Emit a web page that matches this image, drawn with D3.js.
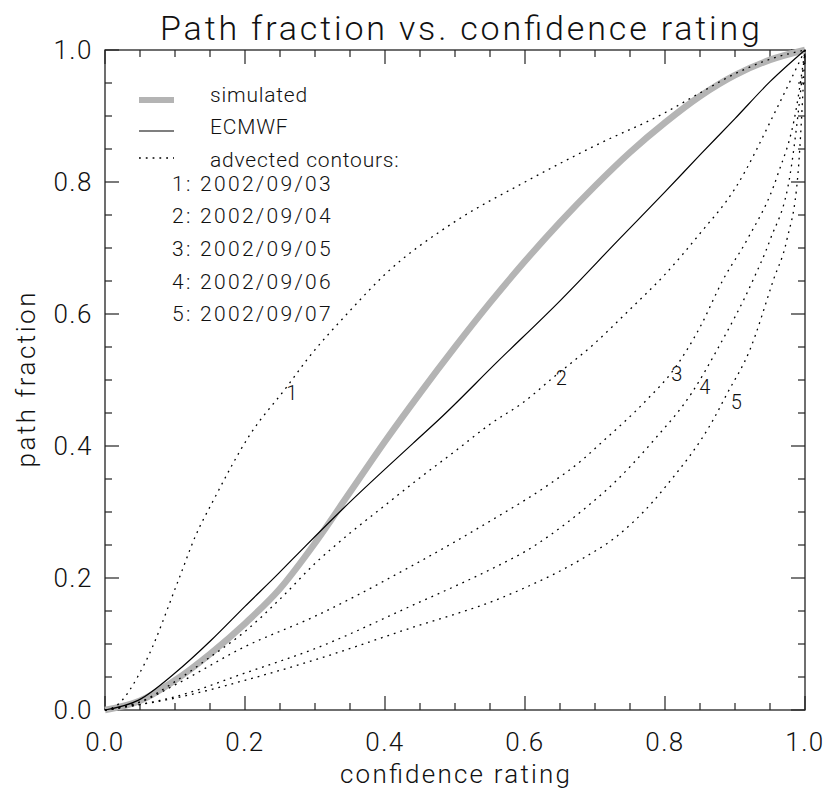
<!DOCTYPE html>
<html>
<head>
<meta charset="utf-8">
<script src="https://cdn.jsdelivr.net/npm/d3@7"></script>
<style>
  body { margin: 0; background: #fff; }
  text { font-family: Roboto, "DejaVu Sans", sans-serif; font-weight: 300; fill: #111; }
</style>
</head>
<body>
<div id="chart"></div>
<script>
// confidence rating (x) / path fraction (y)
const simulated = [
  [0, 0], [0.05, 0.014], [0.1, 0.045], [0.15, 0.085], [0.2, 0.131], [0.25, 0.184],
  [0.3, 0.253], [0.35, 0.33], [0.4, 0.407], [0.45, 0.48], [0.5, 0.55],
  [0.55, 0.617], [0.6, 0.68], [0.65, 0.739], [0.7, 0.794], [0.75, 0.845],
  [0.8, 0.89], [0.85, 0.93], [0.9, 0.962], [0.95, 0.985], [1, 1]
];
const ecmwf = [
  [0, 0], [0.048, 0.015], [0.1, 0.056], [0.152, 0.106], [0.2, 0.157], [0.248, 0.207],
  [0.286, 0.248], [0.34, 0.305], [0.44, 0.404], [0.479, 0.442], [0.56, 0.527],
  [0.65, 0.62], [0.736, 0.715], [0.8, 0.785], [0.85, 0.841], [0.9, 0.896],
  [0.95, 0.952], [1, 1]
];
const contour1 = [
  [0, 0], [0.014, 0.005], [0.057, 0.071], [0.105, 0.197], [0.129, 0.263], [0.155, 0.318],
  [0.207, 0.417], [0.26, 0.49], [0.288, 0.53], [0.35, 0.605], [0.4, 0.66], [0.5, 0.74],
  [0.6, 0.80], [0.7, 0.855], [0.8, 0.905], [0.85, 0.935], [0.9, 0.964], [0.95, 0.986], [1, 1]
];
const contour2 = [
  [0, 0], [0.05, 0.012], [0.1, 0.043], [0.15, 0.08], [0.2, 0.119], [0.25, 0.168],
  [0.3, 0.222], [0.35, 0.268], [0.4, 0.31], [0.45, 0.352], [0.5, 0.392], [0.55, 0.433],
  [0.6, 0.468], [0.636, 0.5], [0.7, 0.556], [0.75, 0.607], [0.8, 0.66], [0.85, 0.722],
  [0.9, 0.79], [0.96, 0.912], [1, 1]
];
const contour3 = [
  [0, 0], [0.05, 0.012], [0.1, 0.038], [0.2, 0.096], [0.3, 0.142], [0.436, 0.217],
  [0.5, 0.255], [0.564, 0.295], [0.6, 0.318], [0.636, 0.343], [0.683, 0.38],
  [0.707, 0.403], [0.774, 0.47], [0.812, 0.515], [0.85, 0.58], [0.883, 0.652],
  [0.917, 0.712], [0.96, 0.808], [0.988, 0.914], [1, 1]
];
const contour4 = [
  [0, 0], [0.1, 0.02], [0.2, 0.056], [0.3, 0.093], [0.436, 0.157], [0.564, 0.22],
  [0.6, 0.24], [0.636, 0.265], [0.693, 0.312], [0.717, 0.334], [0.785, 0.41],
  [0.838, 0.48], [0.874, 0.545], [0.926, 0.652], [0.95, 0.712], [0.979, 0.813], [1, 1]
];
const contour5 = [
  [0, 0], [0.1, 0.018], [0.2, 0.045], [0.3, 0.076], [0.436, 0.124], [0.564, 0.169],
  [0.593, 0.182], [0.683, 0.23], [0.731, 0.263], [0.783, 0.316], [0.802, 0.34],
  [0.869, 0.44], [0.888, 0.478], [0.921, 0.545], [0.955, 0.652], [0.974, 0.712],
  [0.99, 0.813], [1, 1]
];
const contours = [contour1, contour2, contour3, contour4, contour5];

// curve number labels (x, y, text)
const curveLabels = [
  [0.267, 0.48, "1"], [0.652, 0.503, "2"], [0.817, 0.51, "3"],
  [0.857, 0.49, "4"], [0.902, 0.467, "5"]
];
const contourDates = ["2002/09/03", "2002/09/04", "2002/09/05", "2002/09/06", "2002/09/07"];
const tickValues = [0, 0.2, 0.4, 0.6, 0.8, 1.0];
const minorTicks = d3.range(0, 1.0001, 0.05);

const width = 830;
const height = 791;
const margin = { left: 105, right: 25, top: 50, bottom: 81 };

const svg = d3.select("#chart").append("svg")
  .attr("width", width)
  .attr("height", height);

const x = d3.scaleLinear().domain([0, 1]).range([margin.left, width - margin.right]);
const y = d3.scaleLinear().domain([0, 1]).range([height - margin.bottom, margin.top]);

// title
svg.append("text")
  .attr("x", 460)
  .attr("y", 40)
  .attr("text-anchor", "middle")
  .attr("textLength", 600)
  .attr("lengthAdjust", "spacing")
  .style("font-size", "34px")
  .text("Path fraction vs. confidence rating");

// frame + ticks (inward on all four sides)
const axisColor = "#222";
const frame = svg.append("g");
frame.append("rect")
  .attr("x", x(0)).attr("y", y(1))
  .attr("width", x(1) - x(0)).attr("height", y(0) - y(1))
  .attr("fill", "none").attr("stroke", axisColor).attr("stroke-width", 1.3);

const isMajor = (v) => Math.abs(v * 5 - Math.round(v * 5)) < 1e-6;
minorTicks.forEach((v) => {
  const len = isMajor(v) ? 14 : 7;
  // bottom / top
  frame.append("line").attr("x1", x(v)).attr("x2", x(v))
    .attr("y1", y(0)).attr("y2", y(0) - len)
    .attr("stroke", axisColor).attr("stroke-width", 1.2);
  frame.append("line").attr("x1", x(v)).attr("x2", x(v))
    .attr("y1", y(1)).attr("y2", y(1) + len)
    .attr("stroke", axisColor).attr("stroke-width", 1.2);
  // left / right
  frame.append("line").attr("y1", y(v)).attr("y2", y(v))
    .attr("x1", x(0)).attr("x2", x(0) + len)
    .attr("stroke", axisColor).attr("stroke-width", 1.2);
  frame.append("line").attr("y1", y(v)).attr("y2", y(v))
    .attr("x1", x(1)).attr("x2", x(1) - len)
    .attr("stroke", axisColor).attr("stroke-width", 1.2);
});

// tick labels
svg.append("g").selectAll("text")
  .data(tickValues)
  .join("text")
  .attr("x", (d) => x(d))
  .attr("y", y(0) + 41)
  .attr("text-anchor", "middle")
  .style("font-size", "26px")
  .style("letter-spacing", "1.5px")
  .text((d) => d.toFixed(1));

svg.append("g").selectAll("text")
  .data(tickValues)
  .join("text")
  .attr("x", x(0) - 12)
  .attr("y", (d) => y(d))
  .attr("dy", "0.36em")
  .attr("text-anchor", "end")
  .style("font-size", "26px")
  .style("letter-spacing", "1.5px")
  .text((d) => d.toFixed(1));

// axis titles
svg.append("text")
  .attr("x", (x(0) + x(1)) / 2)
  .attr("y", 783)
  .attr("text-anchor", "middle")
  .attr("textLength", 230)
  .attr("lengthAdjust", "spacing")
  .style("font-size", "26px")
  .text("confidence rating");

svg.append("text")
  .attr("transform", `translate(35,${(y(0) + y(1)) / 2}) rotate(-90)`)
  .attr("text-anchor", "middle")
  .attr("textLength", 175)
  .attr("lengthAdjust", "spacing")
  .style("font-size", "26px")
  .text("path fraction");

// lines
const line = d3.line()
  .x((d) => x(d[0]))
  .y((d) => y(d[1]))
  .curve(d3.curveMonotoneX);

svg.append("path")
  .datum(simulated)
  .attr("d", line)
  .attr("fill", "none")
  .attr("stroke", "#b4b4b4")
  .attr("stroke-width", 6.5);

svg.append("path")
  .datum(ecmwf)
  .attr("d", line)
  .attr("fill", "none")
  .attr("stroke", "#000")
  .attr("stroke-width", 1.2);

svg.append("g").selectAll("path")
  .data(contours)
  .join("path")
  .attr("d", line)
  .attr("fill", "none")
  .attr("stroke", "#000")
  .attr("stroke-width", 1.3)
  .attr("stroke-dasharray", "1.8,5");

svg.append("g").selectAll("text")
  .data(curveLabels)
  .join("text")
  .attr("x", (d) => x(d[0]))
  .attr("y", (d) => y(d[1]))
  .attr("dy", "0.36em")
  .attr("text-anchor", "middle")
  .style("font-size", "20px")
  .text((d) => d[2]);

// legend
const legend = svg.append("g");
legend.append("line")
  .attr("x1", 139).attr("x2", 174).attr("y1", 100).attr("y2", 100)
  .attr("stroke", "#b4b4b4").attr("stroke-width", 6);
legend.append("line")
  .attr("x1", 139).attr("x2", 174).attr("y1", 131).attr("y2", 131)
  .attr("stroke", "#000").attr("stroke-width", 1.2);
legend.append("line")
  .attr("x1", 139).attr("x2", 174).attr("y1", 158).attr("y2", 158)
  .attr("stroke", "#000").attr("stroke-width", 1.3)
  .attr("stroke-dasharray", "1.8,5");

const legendText = ["simulated", "ECMWF", "advected contours:"];
legendText.forEach((t, i) => {
  legend.append("text")
    .attr("x", 210)
    .attr("y", 94 + i * 32.5)
    .attr("dy", "0.36em")
    .style("font-size", "21px")
    .style("letter-spacing", "0.8px")
    .text(t);
});

contourDates.forEach((t, i) => {
  legend.append("text")
    .attr("x", 172)
    .attr("y", 183 + i * 32.7)
    .attr("dy", "0.36em")
    .style("font-size", "21px")
    .style("letter-spacing", "2.3px")
    .text(`${i + 1}: ${t}`);
});
</script>
</body>
</html>
